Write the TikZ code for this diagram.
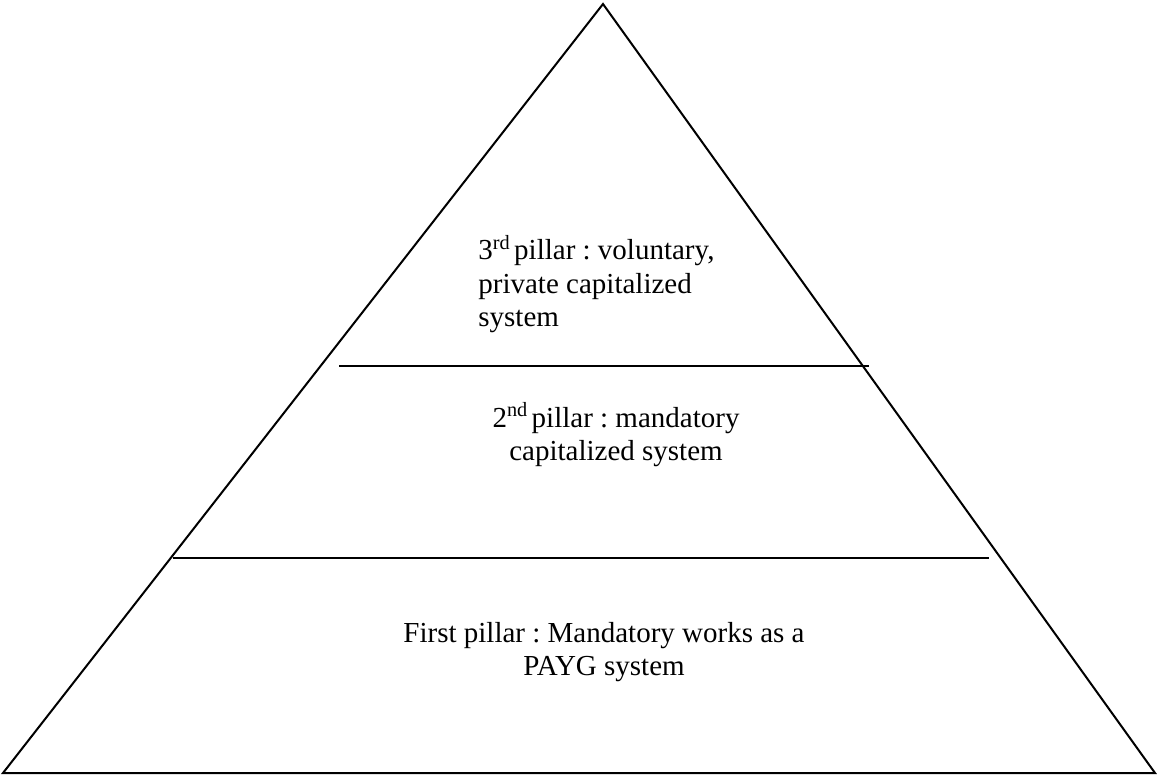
\documentclass[tikz,border=0pt]{standalone}
\usepackage{fontspec}
\setmainfont{Liberation Serif}
\frenchspacing
\begin{document}
\begin{tikzpicture}[x=0.5pt,y=-0.5pt,
  edge/.style={line width=1pt, line join=miter},
  tier/.style={line width=1.2pt},
  label/.style={font=\fontsize{14.5}{16.75}\selectfont\frenchspacing, inner sep=0pt, text=black}]
\useasboundingbox (0,0) rectangle (1157,776);
\coordinate (apex) at (603,4);
\coordinate (bl) at (3,773);
\coordinate (br) at (1155,773);
\draw[edge] (apex) -- (br) -- (bl) -- cycle;
\coordinate (t1) at (339,366);
\coordinate (t2) at (869,366);
\coordinate (s1) at (173,558);
\coordinate (s2) at (989,558);
\draw[tier] (t1) -- (t2);
\draw[tier] (s1) -- (s2);
\node[label, align=left, anchor=west] (third) at (478,284)
  {3\textsuperscript{rd\,}pillar : voluntary,\\private capitalized\\system};
\node[label, align=center] (second) at (616,435)
  {2\textsuperscript{nd\,}pillar : mandatory\\capitalized system};
\node[label, align=center] (first) at (604,652)
  {First pillar : Mandatory works as a\\PAYG system};
\end{tikzpicture}
\end{document}
